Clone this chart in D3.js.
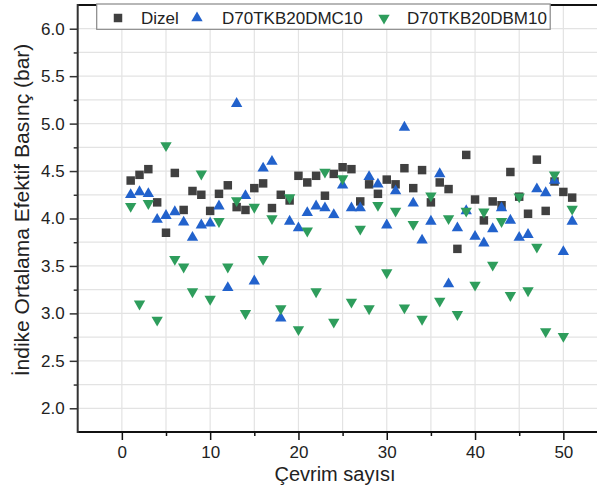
<!DOCTYPE html>
<html><head><meta charset="utf-8">
<script src="https://cdn.jsdelivr.net/npm/d3@7"></script>
<style>body{margin:0;background:#fff}svg{display:block}text{font-family:"Liberation Sans",Arial,sans-serif}</style>
</head><body>
<svg id="c" width="597" height="490"></svg>
<script>
const cycles = d3.range(1, 52);
const dizel = [4.40,4.46,4.52,4.17,3.85,4.48,4.09,4.29,4.25,4.08,4.26,4.35,4.12,4.09,4.32,4.37,4.11,4.25,4.19,4.45,4.38,4.45,4.24,4.47,4.54,4.52,4.18,4.36,4.26,4.41,4.36,4.53,4.32,4.51,4.17,4.38,4.31,3.68,4.67,4.20,3.98,4.18,4.14,4.49,4.23,4.05,4.62,4.08,4.39,4.28,4.22];
const dmc10 = [4.25,4.28,4.26,3.99,4.03,4.07,3.96,3.80,3.93,3.95,4.13,3.27,5.21,4.24,3.34,4.53,4.60,2.95,3.97,3.90,4.06,4.13,4.11,4.04,4.35,4.11,4.11,4.44,4.36,3.93,4.29,4.96,4.16,3.77,3.97,4.47,3.31,3.90,4.08,3.81,3.74,3.89,4.11,3.98,3.80,3.83,4.31,4.27,4.40,3.65,3.97];
const dbm10 = [4.13,3.10,4.16,2.93,4.77,3.57,3.49,3.23,4.47,3.15,3.97,3.49,4.19,3.00,4.12,3.57,4.00,3.05,4.22,2.83,3.87,3.23,4.49,2.91,4.42,3.12,3.89,3.05,4.14,3.43,4.08,3.06,3.94,2.94,4.24,3.13,4.00,2.99,4.08,3.30,4.07,3.51,3.97,3.19,4.23,3.24,3.70,2.81,4.46,2.76,4.10];
const seriesNames = ["Dizel","D70TKB20DMC10","D70TKB20DBM10"];
const xTicks = [0,10,20,30,40,50];
const yTicks = [2.0,2.5,3.0,3.5,4.0,4.5,5.0,5.5,6.0];
const xTitle = "Çevrim sayısı";
const yTitle = "İndike Ortalama Efektif Basınç (bar)";

const colors = ["#404040","#2262cc","#2e9d5c"];
const svg = d3.select("#c");
const L = 77.7, T = 5, B = 432;
const x = d3.scaleLinear().domain([-5,55]).range([L, L + 60*8.83]);
const y = d3.scaleLinear().domain([1.75,6.25]).range([B, T]);
const R = 597;

// grid
const g = svg.append("g");
g.selectAll("line.v").data(d3.range(0,56,5)).join("line")
  .attr("x1",d=>x(d)).attr("x2",d=>x(d)).attr("y1",T).attr("y2",B)
  .attr("stroke","#e3e3e3").attr("stroke-width",1.2);
g.selectAll("line.h").data(d3.range(2,6.26,0.25)).join("line")
  .attr("x1",L).attr("x2",R).attr("y1",d=>y(d)).attr("y2",d=>y(d))
  .attr("stroke","#e3e3e3").attr("stroke-width",1.2);

// axes
const yAxis = d3.axisLeft(y).tickValues(yTicks).tickFormat(d3.format(".1f")).tickSize(8).tickPadding(5);
const ya = svg.append("g").attr("transform",`translate(${L},0)`).call(yAxis);
ya.select(".domain").remove();
ya.selectAll(".tick line").attr("stroke","#333").attr("stroke-width",1.5);
ya.selectAll("text").attr("font-size",17).attr("fill","#222");
const yMinor = d3.axisLeft(y).tickValues(d3.range(2.25,6.1,0.5)).tickSize(4).tickFormat("");
const ym = svg.append("g").attr("transform",`translate(${L},0)`).call(yMinor);
ym.select(".domain").remove();
ym.selectAll(".tick line").attr("stroke","#333").attr("stroke-width",1.5);

const xAxis = d3.axisBottom(x).tickValues(xTicks).tickSize(8).tickPadding(6);
const xa = svg.append("g").attr("transform",`translate(0,${B})`).call(xAxis);
xa.select(".domain").remove();
xa.selectAll(".tick line").attr("stroke","#111").attr("stroke-width",1.5);
xa.selectAll("text").attr("font-size",17).attr("fill","#222");
const xMinor = d3.axisBottom(x).tickValues([5,15,25,35,45]).tickSize(4).tickFormat("");
const xm = svg.append("g").attr("transform",`translate(0,${B})`).call(xMinor);
xm.select(".domain").remove();
xm.selectAll(".tick line").attr("stroke","#111").attr("stroke-width",1.5);

svg.append("line").attr("x1",L).attr("x2",R).attr("y1",B).attr("y2",B).attr("stroke","#111").attr("stroke-width",2);
svg.append("line").attr("x1",L).attr("x2",R).attr("y1",T).attr("y2",T).attr("stroke","#111").attr("stroke-width",2);
svg.append("line").attr("x1",L).attr("x2",L).attr("y1",T-1).attr("y2",B+1).attr("stroke","#333").attr("stroke-width",2);

// titles
svg.append("text").attr("x",335).attr("y",481).attr("text-anchor","middle").attr("font-size",20).attr("fill","#222").text(xTitle);
svg.append("text").attr("transform","translate(29,210) rotate(-90)").attr("text-anchor","middle").attr("font-size",21).attr("fill","#222").text(yTitle);

// markers
const sq = d3.symbol().type(d3.symbolSquare).size(72);
const tri = d3.symbol().type(d3.symbolTriangle).size(56);
const data = [dizel, dmc10, dbm10];
const shapes = [sq, tri, tri];
const rot = [0, 0, 180];
data.forEach((vals, k) => {
  svg.append("g").selectAll("path").data(vals).join("path")
    .attr("d", shapes[k]())
    .attr("transform",(d,i)=>`translate(${x(cycles[i])},${y(d)}) rotate(${rot[k]})`)
    .attr("fill", colors[k]);
});

// legend
const lg = svg.append("g");
lg.append("rect").attr("x",96.7).attr("y",4).attr("width",453.5).attr("height",25.3)
  .attr("fill","#fff").attr("stroke","#888").attr("stroke-width",1.2);
const lx = [[118,141],[197,222],[384,407]];
seriesNames.forEach((n,k)=>{
  lg.append("path").attr("d",shapes[k]()).attr("transform",`translate(${lx[k][0]},18) rotate(${rot[k]})`).attr("fill",colors[k]);
  lg.append("text").attr("x",lx[k][1]).attr("y",24).attr("font-size",17).attr("fill","#222").text(n);
});
</script>
</body></html>
